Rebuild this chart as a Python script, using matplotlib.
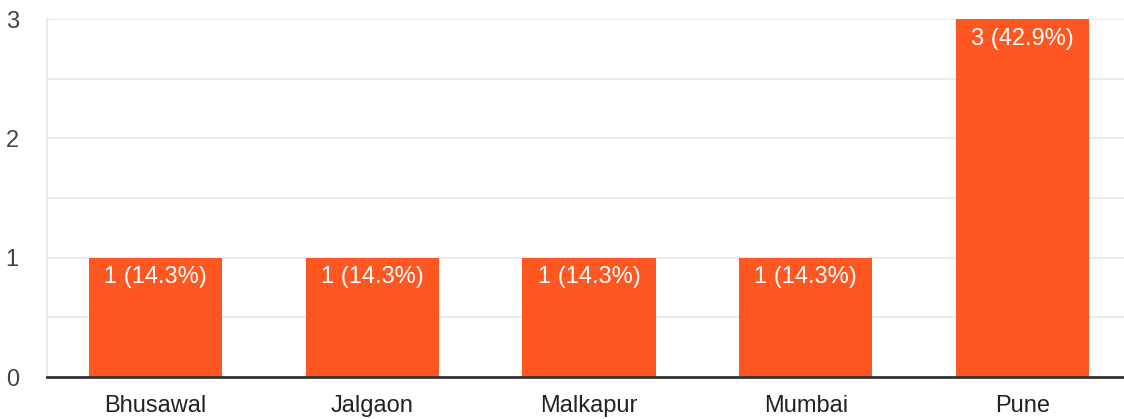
import matplotlib.pyplot as plt
import numpy as np

# Datos
cities = ["Bhusawal", "Jalgaon", "Malkapur", "Mumbai", "Pune"]
counts = [1, 1, 1, 1, 3]
pct_labels = ["1 (14.3%)", "1 (14.3%)", "1 (14.3%)", "1 (14.3%)", "3 (42.9%)"]
yticks = [0, 1, 2, 3]

plt.rcParams['font.family'] = ['Liberation Sans', 'DejaVu Sans']

fig = plt.figure(figsize=(11.24, 4.19), dpi=100)
ax = fig.add_axes([47/1124, 42/419, 1084/1124, 358/419])

x = np.arange(len(cities))
bars = ax.bar(x, counts, width=0.614, color='#ff5722', zorder=3)

for b, lab in zip(bars, pct_labels):
    ax.text(b.get_x() + b.get_width()/2, b.get_height() - 0.165, lab,
            ha='center', va='center', color='white', fontsize=17, zorder=4)

ax.set_xlim(-0.5, len(cities) - 0.5)
ax.set_ylim(0, 3)
ax.set_yticks(yticks)
ax.set_yticks(np.arange(0.5, 3, 1), minor=True)
ax.set_xticks(x)
ax.set_xticklabels(cities)

ax.grid(axis='y', which='both', color='#ebebeb', linewidth=1.5, zorder=0)
ax.tick_params(axis='both', which='both', length=0, labelsize=17, colors='#222222')
ax.tick_params(axis='y', pad=25, colors='#444444')
ax.tick_params(axis='x', pad=13)
for t in ax.get_yticklabels():
    t.set_horizontalalignment('center')

for s in ['top', 'right']:
    ax.spines[s].set_visible(False)
ax.spines['left'].set_color('#ebebeb')
ax.spines['left'].set_linewidth(1.5)
ax.spines['bottom'].set_color('#333333')
ax.spines['bottom'].set_linewidth(2)
ax.spines['bottom'].set_zorder(5)

fig.savefig('out.png', dpi=100)
